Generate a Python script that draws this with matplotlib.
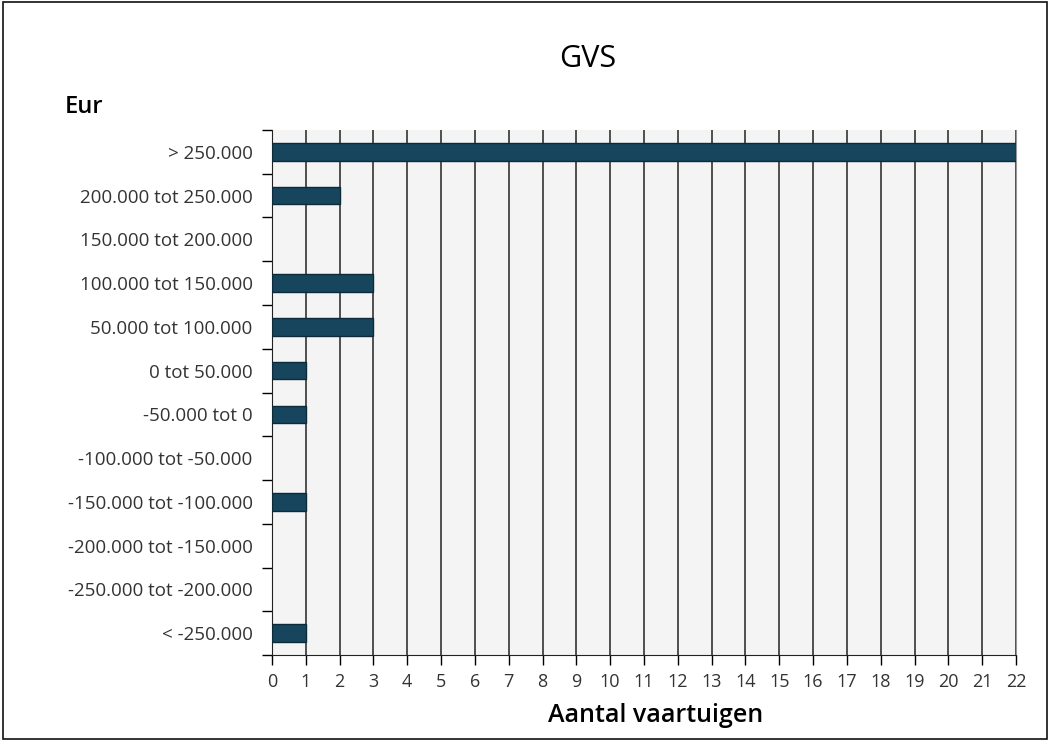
import matplotlib
matplotlib.use('Agg')
import matplotlib.pyplot as plt
import numpy as np

# Klassen (van onder naar boven) en aantal vaartuigen
categorieen = ['< -250.000', '-250.000 tot -200.000', '-200.000 tot -150.000',
               '-150.000 tot -100.000', '-100.000 tot -50.000', '-50.000 tot 0',
               '0 tot 50.000', '50.000 tot 100.000', '100.000 tot 150.000',
               '150.000 tot 200.000', '200.000 tot 250.000', '> 250.000']
aantallen = [1, 0, 0, 1, 0, 1, 1, 3, 3, 0, 2, 22]
x_ticks = list(range(0, 23))

plt.rcParams['font.family'] = ['Open Sans', 'DejaVu Sans']

fig = plt.figure(figsize=(10.5, 7.41), dpi=100)
ax = fig.add_axes([0.259, 0.116, 0.7086, 0.7086])
ax.set_facecolor('#f4f4f4')

y = np.arange(len(categorieen))
randen = [1 if a > 0 else 0 for a in aantallen]
ax.barh(y, aantallen, height=0.4, color='#17455d', edgecolor='#0d2a38',
        linewidth=randen, zorder=3)

ax.set_xlim(0, 22)
ax.set_ylim(-0.5, len(categorieen) - 0.5)
ax.set_xticks(x_ticks)
ax.set_xticklabels([str(t) for t in x_ticks], fontsize=13, color='#333333')
ax.xaxis.grid(True, color='#333333', linewidth=1.2, zorder=1)
ax.tick_params(axis='x', length=7, width=1, direction='out', pad=6)

# labels in het midden, streepjes op de grenzen
ax.set_yticks(np.arange(-0.5, len(categorieen)), minor=False)
ax.set_yticklabels([])
ax.set_yticks(y, minor=True)
ax.set_yticklabels(categorieen, minor=True, fontsize=13.5, color='#333333')
ax.tick_params(axis='y', which='major', length=7, width=1, direction='out')
ax.tick_params(axis='y', which='minor', length=0, pad=14)

ax.spines['top'].set_visible(False)
ax.spines['right'].set_color('#999999')
ax.spines['left'].set_color('#222222')
ax.spines['bottom'].set_color('#222222')

fig.text(0.56, 0.92, 'GVS', fontsize=22, fontweight='medium', ha='center', va='center')
fig.text(0.062, 0.855, 'Eur', fontsize=17, fontweight='semibold', ha='left', va='center')
fig.text(0.624, 0.035, 'Aantal vaartuigen', fontsize=18, fontweight='semibold',
         ha='center', va='center')

# kader rond de figuur
fig.patches.append(plt.Rectangle((0.003, 0.003), 0.994, 0.994, transform=fig.transFigure,
                                 fill=False, edgecolor='#111111', linewidth=1.2))

plt.savefig('out.png', dpi=100)
